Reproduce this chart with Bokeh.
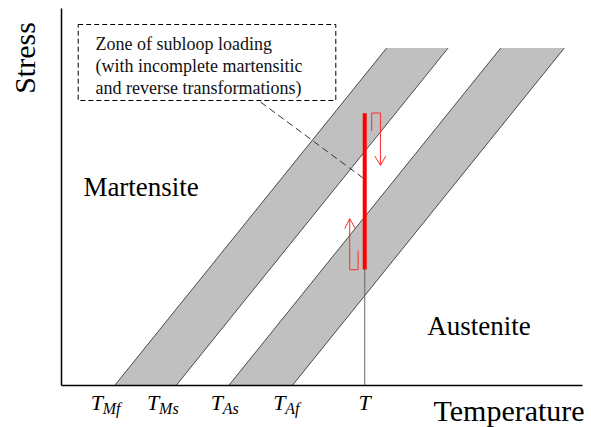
import numpy as np
from bokeh.plotting import figure
from bokeh.models import Range1d
from bokeh.core.properties import value
from bokeh.embed import file_html
from bokeh.resources import INLINE

# ---- data (temperature axis 0..100, stress axis 0..100) ----
tick_subs = ["Mf", "Ms", "As", "Af"]
tick_temps = [10.2, 22.0, 32.1, 44.3]
T_test = 58.2
band_top_stress = 89.5
band_shift = 52.2          # temperature shift of a band edge at the top stress
red_stress = [30.8, 72.2]  # subloop stress range at T
region_labels = ["Martensite", "Austenite"]
region_temp = [4.2, 70.2]
region_stress = [50.4, 13.7]
note_lines = ["Zone of subloop loading",
              "(with incomplete martensitic",
              "and reverse transformations)"]
axis_max = 100.0

# ---- layout constants ----
W, H = 591, 427
PX, PY = 5.21, 3.77           # pixels per data unit
X0, Y0 = 61, 385              # axis origin in pixels
SERIF = value("'Liberation Serif', serif")
BASE_FIX = 0.3                # baseline correction, in em
tick_label_shift_px = [-24, -29, -18, -19]   # left edge of "T" relative to tick

p = figure(width=W, height=H, output_backend="svg", toolbar_location=None,
           x_range=Range1d(-X0 / PX, (W - X0) / PX),
           y_range=Range1d(-(H - Y0) / PY, Y0 / PY),
           min_border=0)
p.axis.visible = False
p.grid.visible = False
p.outline_line_color = None
p.background_fill_color = "white"
p.border_fill_color = "white"

def dx(px): return px / PX
def dy(px): return px / PY
def fix(size): return dy(BASE_FIX * size)

# bands
Mf, Ms, As, Af = tick_temps
for lo, hi in [(Mf, Ms), (As, Af)]:
    p.patch([lo, hi, hi + band_shift, lo + band_shift],
            [0, 0, band_top_stress, band_top_stress],
            fill_color="#c0c0c0", line_color=None)
    p.multi_line([[lo, lo + band_shift], [hi, hi + band_shift]],
                 [[0, band_top_stress], [0, band_top_stress]],
                 line_color="#4a4a4a", line_width=1)

# thin vertical line at T
p.line([T_test, T_test], [0, red_stress[0]], line_color="#666666", line_width=1)

# axes
p.line([0, 0], [0, axis_max], line_color="black", line_width=1.5)
p.line([0, axis_max], [0, 0], line_color="black", line_width=1.5)

# red subloop line
p.line([T_test, T_test], red_stress, line_color="#ff0000", line_width=4)

# red outlined arrows (pixel offsets converted to data)
lo_s, hi_s = red_stress
down_x = [T_test + dx(7), T_test + dx(7), T_test + dx(15.7), T_test + dx(15.7)]
down_y = [hi_s - dy(17.7), hi_s + dy(0.3), hi_s + dy(0.3), hi_s - dy(52)]
down_head_x = [T_test + dx(10), T_test + dx(15.7), T_test + dx(21)]
down_head_y = [hi_s - dy(42.7), hi_s - dy(52), hi_s - dy(42.7)]
up_x = [T_test - dx(6.6), T_test - dx(6.6), T_test - dx(15), T_test - dx(15)]
up_y = [lo_s + dy(18.6), lo_s - dy(0.3), lo_s - dy(0.3), lo_s + dy(50.7)]
up_head_x = [T_test - dx(20), T_test - dx(15), T_test - dx(9.3)]
up_head_y = [lo_s + dy(40.7), lo_s + dy(50.7), lo_s + dy(40.7)]
p.multi_line([down_x, down_head_x, up_x, up_head_x],
             [down_y, down_head_y, up_y, up_head_y],
             line_color="#ff2a2a", line_width=1)

# note box and leader
box_l, box_r = dx(77.7 - X0), dx(335.3 - X0)
box_t, box_b = dy(Y0 - 24), dy(Y0 - 100)
p.quad(left=box_l, right=box_r, bottom=box_b, top=box_t,
       fill_color=None, line_color="black", line_width=1, line_dash="5 3")
p.line([dx(260 - X0), T_test - dx(2)], [box_b - dy(1.5), dy(Y0 - 177.3)],
       line_color="#333333", line_width=1, line_dash="7 4")
for i, t in enumerate(note_lines):
    p.text(x=[dx(95 - X0)], y=[dy(Y0 - 49.3) - i * dy(21.8) + fix(18)], text=[t],
           text_font=SERIF, text_font_size="18px", text_color="#111111",
           text_baseline="alphabetic", text_align="left")

# region labels
p.text(x=region_temp, y=[s + fix(27) for s in region_stress], text=region_labels,
       text_font=SERIF, text_font_size="27px", text_color="black",
       text_baseline="alphabetic", text_align="left")

# axis titles
p.text(x=[dx(33 - X0 - BASE_FIX * 30)], y=[dy(Y0 - 57.5)], text=["Stress"],
       angle=np.pi / 2,
       text_font=SERIF, text_font_size="30px", text_color="black",
       text_baseline="alphabetic", text_align="center")
p.text(x=[dx(433 - X0)], y=[dy(Y0 - 419.3) + fix(30)], text=["Temperature"],
       text_font=SERIF, text_font_size="30px", text_color="black",
       text_baseline="alphabetic", text_align="left")

# tick labels
label_base = dy(Y0 - 408.5) + fix(22)
sub_base = dy(Y0 - 412.5) + fix(16)
for t, s, sh in zip(tick_temps, tick_subs, tick_label_shift_px):
    left = t + dx(sh)
    p.text(x=[left], y=[label_base], text=["T"],
           text_font=SERIF, text_font_size="22px", text_font_style="italic",
           text_baseline="alphabetic", text_align="left", text_color="black")
    p.text(x=[left + dx(12)], y=[sub_base], text=[s],
           text_font=SERIF, text_font_size="16px", text_font_style="italic",
           text_baseline="alphabetic", text_align="left", text_color="black")
p.text(x=[T_test], y=[label_base], text=["T"],
       text_font=SERIF, text_font_size="22px", text_font_style="italic",
       text_baseline="alphabetic", text_align="center", text_color="black")

open("out.html", "w").write(file_html(p, INLINE))
